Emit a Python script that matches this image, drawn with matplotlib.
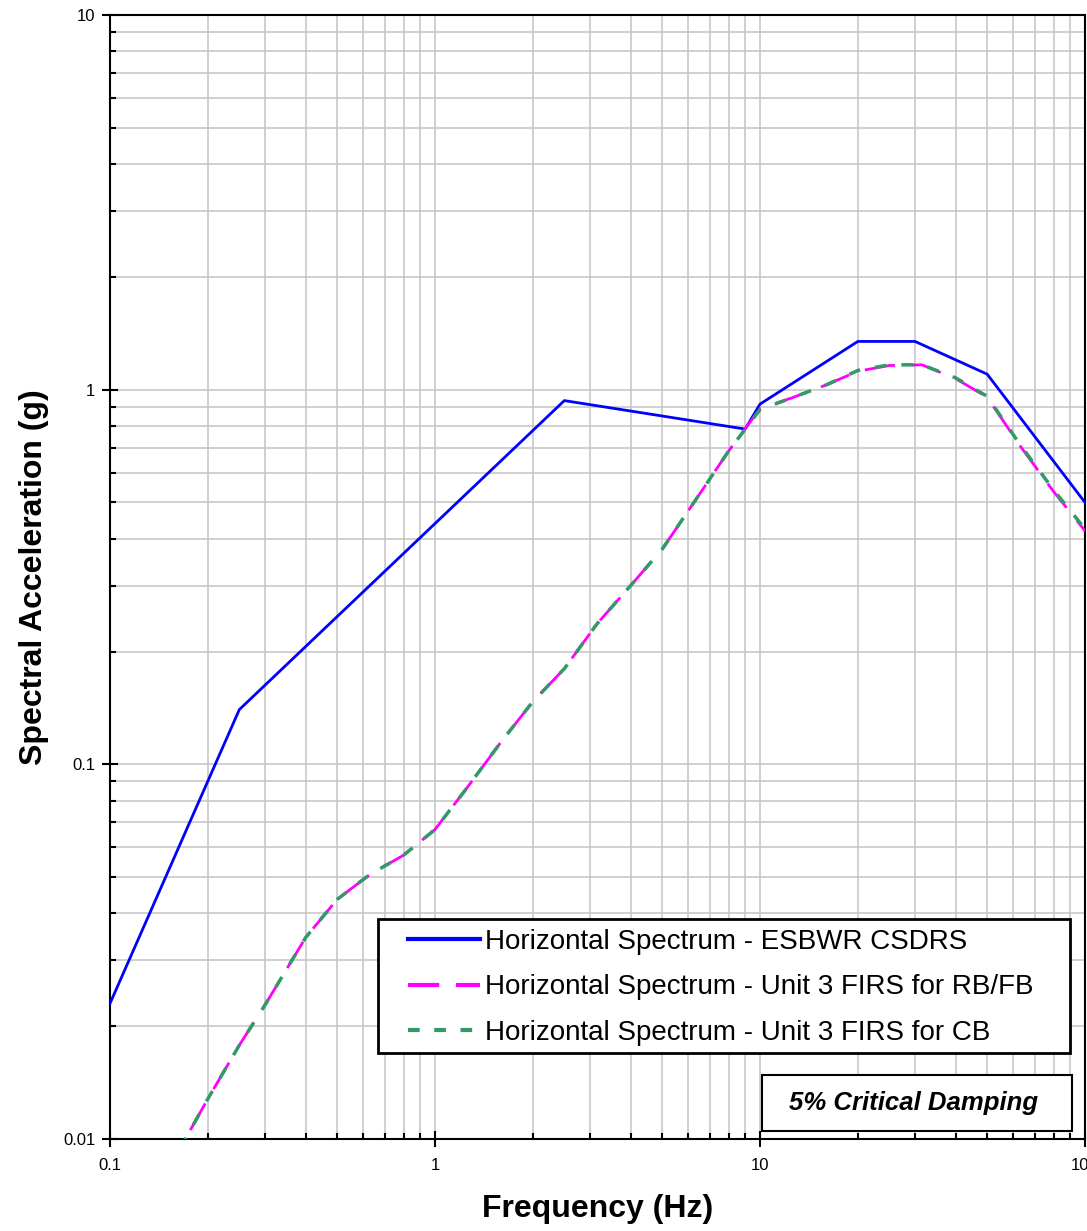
import matplotlib
matplotlib.use('Agg')
import matplotlib.pyplot as plt
from matplotlib.patches import Rectangle
from matplotlib.ticker import LogLocator, NullFormatter

# ESBWR CSDRS (horizontal) - corner points
freq_csdrs = [0.1, 0.25, 2.5, 9.0, 10.0, 20.0, 30.0, 50.0, 100.0]
sa_csdrs = [0.023, 0.14, 0.935, 0.785, 0.915, 1.345, 1.345, 1.1, 0.5]

# Unit 3 FIRS curves
freq_firs = [0.15, 0.2, 0.25, 0.3, 0.4, 0.5, 0.63, 0.8, 1.0, 1.25, 1.6, 2.0, 2.5,
             3.15, 4.0, 5.0, 6.3, 8.0, 10.0, 12.5, 16.0, 20.0, 25.0, 31.5, 40.0,
             50.0, 63.0, 80.0, 100.0]
sa_rbfb = [0.0082, 0.0128, 0.0178, 0.0228, 0.0345, 0.0436, 0.0508, 0.0572, 0.067,
           0.0862, 0.115, 0.147, 0.18, 0.237, 0.30, 0.375, 0.504, 0.685, 0.89,
           0.95, 1.03, 1.12, 1.16, 1.165, 1.07, 0.955, 0.71, 0.535, 0.42]
sa_cb = [0.0082, 0.0128, 0.0178, 0.0228, 0.0345, 0.0436, 0.0508, 0.0572, 0.067,
         0.0862, 0.115, 0.147, 0.18, 0.237, 0.30, 0.375, 0.504, 0.685, 0.885,
         0.95, 1.03, 1.125, 1.165, 1.165, 1.075, 0.96, 0.715, 0.54, 0.425]

series_names = ['Horizontal Spectrum - ESBWR CSDRS',
                'Horizontal Spectrum - Unit 3 FIRS for RB/FB',
                'Horizontal Spectrum - Unit 3 FIRS for CB']
x_ticks = [0.1, 1, 10, 100]
x_labels = ['0.1', '1', '10', '100']
y_ticks = [0.01, 0.1, 1, 10]
y_labels = ['0.01', '0.1', '1', '10']
damping_note = '5% Critical Damping'

plt.rcParams['font.family'] = ['Liberation Sans', 'DejaVu Sans']

W, H = 1087, 1231
L, R, T, B = 110, 1085, 15, 1139

def ax_x(px):
	return (px - L) / (R - L)

def ax_y(py):
	return (B - py) / (B - T)

fig = plt.figure(figsize=(W / 100, H / 100), dpi=100)
ax = fig.add_axes([L / W, 1 - B / H, (R - L) / W, (B - T) / H])
ax.set_xscale('log')
ax.set_yscale('log')

ax.plot(freq_csdrs, sa_csdrs, color='#0000ff', lw=2.0, label=series_names[0], zorder=3)
ax.plot(freq_firs, sa_rbfb, color='#ff00ff', lw=2.0, dashes=(11, 6), label=series_names[1], zorder=3)
ax.plot(freq_firs, sa_cb, color='#339966', lw=2.5, dashes=(3.4, 4.3), label=series_names[2], zorder=4)

ax.set_xlim(0.1, 100)
ax.set_ylim(0.01, 10)
ax.set_xticks(x_ticks, x_labels)
ax.set_yticks(y_ticks, y_labels)
ax.xaxis.set_minor_locator(LogLocator(base=10, subs=range(2, 10), numticks=20))
ax.yaxis.set_minor_locator(LogLocator(base=10, subs=range(2, 10), numticks=20))
ax.xaxis.set_minor_formatter(NullFormatter())
ax.yaxis.set_minor_formatter(NullFormatter())

ax.tick_params(which='major', direction='inout', length=11, width=1.5, labelsize=12)
ax.tick_params(which='minor', direction='in', length=4, width=1.5)
ax.tick_params(axis='x', which='major', pad=8)
ax.tick_params(axis='y', which='major', pad=5)
for s in ax.spines.values():
	s.set_linewidth(1.5)

ax.grid(True, which='both', color='#c4c4c4', lw=1.1)
ax.set_axisbelow(True)

ax.set_xlabel('Frequency (Hz)', fontsize=23, fontweight='bold')
ax.set_ylabel('Spectral Acceleration (g)', fontsize=23, fontweight='bold')
ax.xaxis.set_label_coords(0.5, -0.049)
ax.yaxis.set_label_coords(-0.063, 0.5)

# legend box drawn separately so the padding matches
ax.add_patch(Rectangle((ax_x(378), ax_y(1053)), ax_x(1070) - ax_x(378), ax_y(919) - ax_y(1053),
                       transform=ax.transAxes, facecolor='white', edgecolor='black', lw=2, zorder=5))
leg = ax.legend(loc='upper left', bbox_to_anchor=(ax_x(408), ax_y(929)), frameon=False,
                fontsize=20, handlelength=2.6, handletextpad=0.18, labelspacing=0.7,
                borderpad=0, borderaxespad=0)
leg.set_zorder(6)
hl = leg.get_lines()
hl[0].set_linewidth(3)
hl[1].set_linewidth(3)
hl[1].set_dashes((7.5, 4))
hl[2].set_linewidth(3)
hl[2].set_dashes((2.8, 3.5))

ax.add_patch(Rectangle((ax_x(762), ax_y(1131)), ax_x(1072) - ax_x(762), ax_y(1075) - ax_y(1131),
                       transform=ax.transAxes, facecolor='white', edgecolor='black', lw=1.5, zorder=5))
ax.text(ax_x(914), ax_y(1103), damping_note, transform=ax.transAxes, ha='center', va='center',
        fontsize=18.5, fontweight='bold', fontstyle='italic', zorder=6)

fig.savefig('out.png', dpi=100)
